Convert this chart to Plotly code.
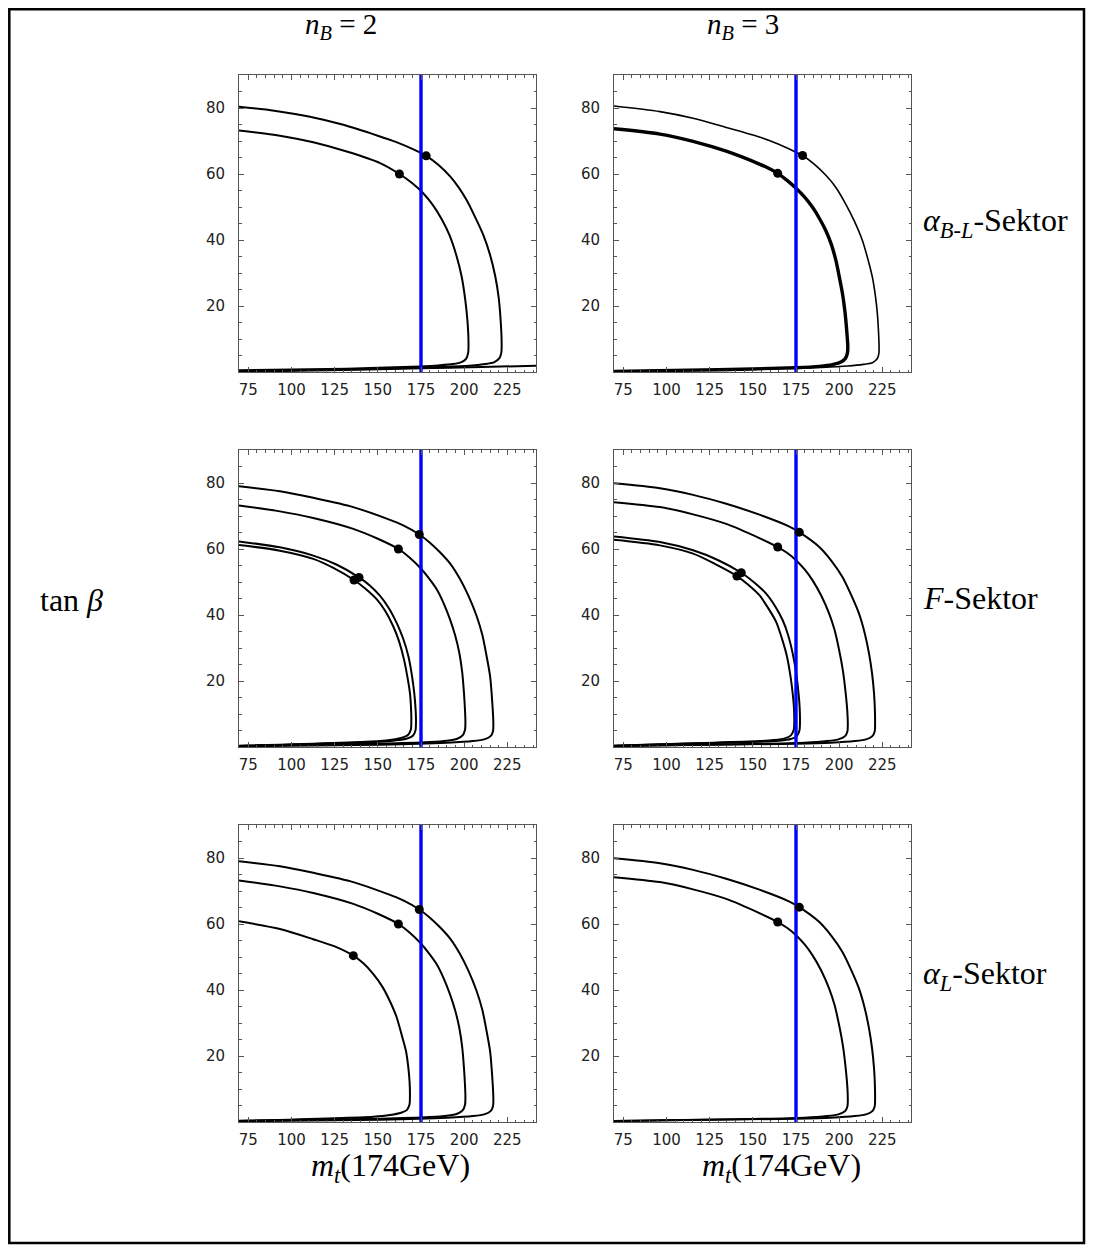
import plotly.graph_objects as go

# The page body has an 8 px margin, so the figure is drawn 8 px smaller and
# every pixel position below is given in window pixels and shifted.
WIN_W, WIN_H = 1096, 1255
PAGE_MARGIN = 8
W, H = WIN_W - PAGE_MARGIN, WIN_H - PAGE_MARGIN

X_RANGE = [69.6, 241.6]
Y_RANGE = [0, 90]
MT_LINE = 175
X_TICKS = [75, 100, 125, 150, 175, 200, 225]
Y_TICKS = [20, 40, 60, 80]

# ---------- Row 1 : alpha_{B-L} sector ----------
# n_B = 2
r1c1_a_x = [69.6, 90, 110, 130, 150, 160, 170, 178, 185, 192, 197, 201.4, 206, 211, 215, 218, 220, 221.2, 221.7, 221.5, 220.3, 217.5, 212, 203, 185, 150, 110, 69.6]
r1c1_a_y = [80.4, 79.2, 77.4, 74.9, 71.6, 69.8, 67.6, 65.5, 62.8, 59.2, 55.8, 52.1, 47.3, 41.6, 35.5, 29.0, 22.5, 15.0, 9.0, 5.8, 4.1, 3.0, 2.4, 1.9, 1.5, 1.0, 0.6, 0.3]
r1c1_b_x = [69.6, 93.3, 112.6, 132, 151.3, 162.5, 170, 176, 182, 187, 191.5, 195.5, 198.5, 200.6, 201.9, 202.5, 202.3, 201.1, 198.4, 193.5, 185, 174.4, 132, 69.6]
r1c1_b_y = [73.2, 71.6, 69.6, 66.8, 63.3, 60.0, 57.2, 54.3, 50.5, 46.3, 41.5, 35.3, 29.0, 22.0, 15.5, 9.5, 5.8, 4.0, 3.0, 2.4, 2.0, 1.7, 1.0, 0.5]
r1c1_c_x = [69.6, 130, 175, 210, 241.6]
r1c1_c_y = [0.1, 0.6, 1.1, 1.5, 1.9]
r1c1_dot_x = [178.0, 162.5]
r1c1_dot_y = [65.5, 60.0]

# n_B = 3
r1c2_a_x = [69.6, 96.2, 115.4, 134.6, 153.8, 165, 175, 178.8, 185, 192.3, 198, 203.8, 209, 213.5, 217, 219.2, 221, 222.1, 222.9, 223.1, 223.0, 222.0, 219.5, 214, 205, 190, 175, 130, 69.6]
r1c2_a_y = [80.6, 78.9, 76.9, 74.1, 71.2, 69.0, 66.6, 65.6, 63.2, 59.6, 56.0, 50.9, 45.5, 39.8, 33.5, 28.8, 23.0, 17.8, 11.0, 7.7, 5.6, 4.0, 2.9, 2.3, 1.8, 1.4, 1.2, 0.7, 0.2]
r1c2_b_x = [69.6, 96.2, 115.4, 134.6, 153.8, 160, 164.4, 170, 175, 180, 184.6, 188.5, 192.3, 195.5, 198.1, 200.2, 201.9, 203.3, 204.2, 204.8, 205.0, 204.8, 203.6, 201, 196, 188.5, 175, 130, 69.6]
r1c2_b_y = [73.7, 72.1, 69.9, 66.9, 63.0, 61.5, 60.2, 58.0, 55.7, 53.0, 49.9, 46.6, 42.8, 38.6, 33.8, 28.5, 23.8, 18.5, 13.7, 9.5, 8.0, 5.8, 4.1, 3.0, 2.2, 1.7, 1.3, 0.7, 0.2]
r1c2_dot_x = [178.8, 164.4]
r1c2_dot_y = [65.6, 60.2]

# ---------- Row 2 : F sector ----------
# n_B = 2
r2c1_a_x = [69.6, 93.3, 112.6, 135.8, 155.1, 165, 174, 180, 186, 192, 197.6, 202.5, 207.2, 210.5, 213, 215, 215.9, 216.9, 216.7, 215.3, 212, 205, 190, 151.3, 69.6]
r2c1_a_y = [79.0, 77.5, 75.5, 72.7, 69.2, 67.1, 64.4, 62.0, 59.0, 55.5, 50.9, 45.8, 39.7, 34.0, 27.5, 21.5, 16.3, 7.1, 4.8, 3.3, 2.4, 1.8, 1.3, 0.7, 0.2]
r2c1_b_x = [69.6, 93.3, 112.6, 135.8, 150, 161.9, 168, 174.4, 179.5, 184.1, 188, 191.8, 194.8, 197.2, 198.9, 199.9, 200.5, 200.7, 200.5, 199.1, 196, 190, 180, 151.3, 69.6]
r2c1_b_y = [73.2, 71.4, 69.4, 66.1, 63.1, 60.0, 57.6, 54.4, 51.2, 47.8, 43.7, 38.7, 33.8, 28.5, 22.5, 16.3, 11.0, 8.1, 5.2, 3.5, 2.5, 1.9, 1.5, 1.0, 0.4]
r2c1_c_x = [69.6, 93.3, 112.6, 126, 139.1, 145.5, 151.3, 156.5, 160.9, 164.7, 167.7, 169.8, 171.1, 171.8, 172.1, 171.8, 170.3, 167, 160, 151.3, 69.6]
r2c1_c_y = [62.3, 60.5, 58.0, 55.3, 51.4, 48.9, 45.8, 42.0, 37.6, 32.8, 27.5, 21.5, 16.3, 12.0, 8.1, 5.0, 3.4, 2.6, 2.0, 1.6, 0.3]
r2c1_d_x = [69.6, 93.3, 112.6, 124.5, 136.2, 143, 149.3, 154.3, 158.9, 162.3, 165.2, 167.2, 168.6, 169.2, 169.4, 169.1, 167.6, 164.5, 158, 151.3, 69.6]
r2c1_d_y = [61.2, 59.5, 57.0, 54.2, 50.6, 47.9, 44.8, 41.2, 36.6, 32.0, 26.4, 21.0, 16.3, 12.0, 8.1, 5.2, 3.7, 2.9, 2.2, 1.8, 0.3]
r2c1_dot_x = [174.0, 161.9, 139.1, 136.2]
r2c1_dot_y = [64.4, 60.0, 51.4, 50.6]

# n_B = 3
r2c2_a_x = [69.6, 96.2, 115.4, 134.6, 153.8, 171.2, 176.9, 188.5, 195.5, 201.9, 207, 211.5, 214.8, 217.3, 219, 220.2, 220.7, 220.8, 220.6, 219.2, 216, 209, 195, 175, 69.6]
r2c2_a_y = [79.9, 78.4, 76.4, 73.7, 70.4, 66.8, 65.1, 60.6, 56.4, 51.5, 46.0, 40.4, 34.5, 28.3, 22.5, 16.2, 11.0, 7.2, 4.8, 3.3, 2.4, 1.8, 1.3, 1.0, 0.3]
r2c2_b_x = [69.6, 96.2, 115.4, 134.6, 153.8, 164.4, 170, 175, 180, 184.6, 189.6, 194.2, 197.3, 200, 202.2, 203.8, 204.7, 205.0, 204.8, 203.4, 200, 193, 180, 69.6]
r2c2_b_y = [74.2, 72.7, 70.5, 67.6, 63.3, 60.6, 58.8, 56.6, 53.8, 50.5, 45.9, 40.4, 35.5, 29.3, 23.0, 16.2, 11.0, 7.2, 4.8, 3.3, 2.4, 1.8, 1.3, 0.3]
r2c2_c_x = [69.6, 96.2, 115.4, 130, 143.3, 151, 157.7, 163, 167.3, 170.5, 173.1, 175.2, 176.5, 177.1, 177.3, 177.0, 175.5, 172, 165, 153.8, 69.6]
r2c2_c_y = [63.8, 62.1, 59.6, 56.6, 52.8, 49.8, 46.5, 42.6, 38.4, 33.8, 28.3, 22.0, 16.2, 12.0, 8.2, 5.0, 3.3, 2.4, 1.9, 1.6, 0.4]
r2c2_d_x = [69.6, 96.2, 115.4, 128, 140.8, 147.5, 153.8, 159, 163.5, 167, 169.6, 171.8, 173.1, 173.8, 174.0, 173.7, 172.2, 169, 162, 153.8, 69.6]
r2c2_d_y = [62.8, 61.1, 58.6, 55.5, 51.8, 49.1, 46.0, 42.0, 37.9, 32.6, 27.8, 21.5, 16.2, 12.0, 8.2, 5.2, 3.6, 2.7, 2.1, 1.8, 0.4]
r2c2_dot_x = [176.9, 164.4, 143.3, 140.8]
r2c2_dot_y = [65.1, 60.6, 52.8, 51.8]

# ---------- Row 3 : alpha_L sector ----------
# n_B = 2
r3c1_a_x = r2c1_a_x
r3c1_a_y = r2c1_a_y
r3c1_b_x = r2c1_b_x
r3c1_b_y = r2c1_b_y
r3c1_c_x = [69.6, 93.3, 112.6, 125, 135.8, 141.8, 147.4, 152.5, 157, 160.8, 163.8, 166.3, 167.7, 168.4, 168.6, 168.3, 166.8, 163.5, 157, 147.4, 69.6]
r3c1_c_y = [60.8, 58.5, 55.4, 53.2, 50.4, 48.0, 44.8, 41.1, 36.6, 31.9, 26.4, 21.5, 16.3, 12.0, 8.1, 5.2, 3.6, 2.8, 2.1, 1.6, 0.3]
r3c1_dot_x = [174.0, 161.9, 135.8]
r3c1_dot_y = [64.4, 60.0, 50.4]

# n_B = 3
r3c2_a_x = r2c2_a_x
r3c2_a_y = r2c2_a_y
r3c2_b_x = r2c2_b_x
r3c2_b_y = r2c2_b_y
r3c2_dot_x = [176.9, 164.4]
r3c2_dot_y = [65.1, 60.6]

# ---------- labels ----------
COL_TITLES = ["<i>n</i><sub><i>B</i></sub> = 2", "<i>n</i><sub><i>B</i></sub> = 3"]
ROW_LABELS = ["<i>α</i><sub><i>B</i>-<i>L</i></sub>-Sektor", "<i>F</i>-Sektor", "<i>α</i><sub><i>L</i></sub>-Sektor"]
Y_LABEL = "tan <i>β</i>"
X_LABEL = "<i>m</i><sub><i>t</i></sub>(174GeV)"

panels = [
    (0, 0, [(r1c1_a_x, r1c1_a_y, 2), (r1c1_b_x, r1c1_b_y, 2), (r1c1_c_x, r1c1_c_y, 2)], (r1c1_dot_x, r1c1_dot_y)),
    (0, 1, [(r1c2_a_x, r1c2_a_y, 1.6), (r1c2_b_x, r1c2_b_y, 3.4)], (r1c2_dot_x, r1c2_dot_y)),
    (1, 0, [(r2c1_a_x, r2c1_a_y, 2), (r2c1_b_x, r2c1_b_y, 2), (r2c1_c_x, r2c1_c_y, 2), (r2c1_d_x, r2c1_d_y, 2)], (r2c1_dot_x, r2c1_dot_y)),
    (1, 1, [(r2c2_a_x, r2c2_a_y, 2), (r2c2_b_x, r2c2_b_y, 2), (r2c2_c_x, r2c2_c_y, 2), (r2c2_d_x, r2c2_d_y, 2)], (r2c2_dot_x, r2c2_dot_y)),
    (2, 0, [(r3c1_a_x, r3c1_a_y, 2), (r3c1_b_x, r3c1_b_y, 2), (r3c1_c_x, r3c1_c_y, 2)], (r3c1_dot_x, r3c1_dot_y)),
    (2, 1, [(r3c2_a_x, r3c2_a_y, 2), (r3c2_b_x, r3c2_b_y, 2)], (r3c2_dot_x, r3c2_dot_y)),
]

# window-pixel boxes of the plot areas
COL_PX = [(239, 536), (614, 911)]
ROW_PX = [(75, 372), (450, 747), (825, 1122)]


def fx(px):
    return (px - PAGE_MARGIN) / W


def fy(py):
    return 1 - (py - PAGE_MARGIN) / H


fig = go.Figure()
layout = dict(
    width=W, height=H, margin=dict(l=0, r=0, t=0, b=0),
    paper_bgcolor="white", plot_bgcolor="white", showlegend=False,
)

axis_common = dict(
    showline=True, linecolor="#555", linewidth=1, mirror="ticks",
    ticks="inside", ticklen=5, tickwidth=1, tickcolor="#555",
    showgrid=False, zeroline=False,
    tickfont=dict(family="DejaVu Sans", size=15, color="#222"),
)

for idx, (r, c, curves, dots) in enumerate(panels):
    n = idx + 1
    xa = "x" if n == 1 else f"x{n}"
    ya = "y" if n == 1 else f"y{n}"
    for (cx, cy, w) in curves:
        fig.add_trace(go.Scatter(x=cx, y=cy, mode="lines", xaxis=xa, yaxis=ya,
                                 line=dict(color="black", width=w, shape="spline", smoothing=0.8),
                                 hoverinfo="skip"))
    fig.add_trace(go.Scatter(x=[MT_LINE, MT_LINE], y=Y_RANGE, mode="lines", xaxis=xa, yaxis=ya,
                             line=dict(color="#0000ff", width=3.4), hoverinfo="skip"))
    fig.add_trace(go.Scatter(x=dots[0], y=dots[1], mode="markers", xaxis=xa, yaxis=ya,
                             marker=dict(color="black", size=9), hoverinfo="skip"))
    x0, x1 = COL_PX[c]
    y0, y1 = ROW_PX[r]
    layout[f"xaxis{'' if n == 1 else n}"] = dict(
        axis_common, domain=[fx(x0), fx(x1)], range=X_RANGE, anchor=ya,
        tickmode="array", tickvals=X_TICKS, ticklabelstandoff=4,
        minor=dict(ticks="inside", ticklen=2.5, tickcolor="#555", tickmode="linear", tick0=70, dtick=5),
    )
    layout[f"yaxis{'' if n == 1 else n}"] = dict(
        axis_common, domain=[fy(y1), fy(y0)], range=Y_RANGE, anchor=xa,
        tickmode="array", tickvals=Y_TICKS, ticklabelstandoff=10,
        minor=dict(ticks="inside", ticklen=2.5, tickcolor="#555", tickmode="linear", tick0=0, dtick=5),
    )

fig.update_layout(**layout)

serif_big = dict(family="Liberation Serif", size=32, color="black")
serif_title = dict(family="Liberation Serif", size=29, color="black")


def ann(text, px, py, xanchor="center", font=serif_big):
    fig.add_annotation(text=text, xref="paper", yref="paper", x=fx(px), y=fy(py),
                       xanchor=xanchor, yanchor="middle", showarrow=False, font=font)


ann(COL_TITLES[0], 341, 26, font=serif_title)
ann(COL_TITLES[1], 743, 26, font=serif_title)
ann(ROW_LABELS[0], 921, 222, "left")
ann(ROW_LABELS[1], 921, 598, "left")
ann(ROW_LABELS[2], 921, 975, "left")
ann(Y_LABEL, 71, 600)
ann(X_LABEL, 390, 1167)
ann(X_LABEL, 781, 1167)

# outer frame (left/top edges kept just inside the drawable area)
fig.add_shape(type="rect", xref="paper", yref="paper",
              x0=1.3 / W, x1=fx(1084), y0=fy(1243), y1=1 - 1.3 / H,
              line=dict(color="black", width=2.5))

fig.write_html("out.html")
